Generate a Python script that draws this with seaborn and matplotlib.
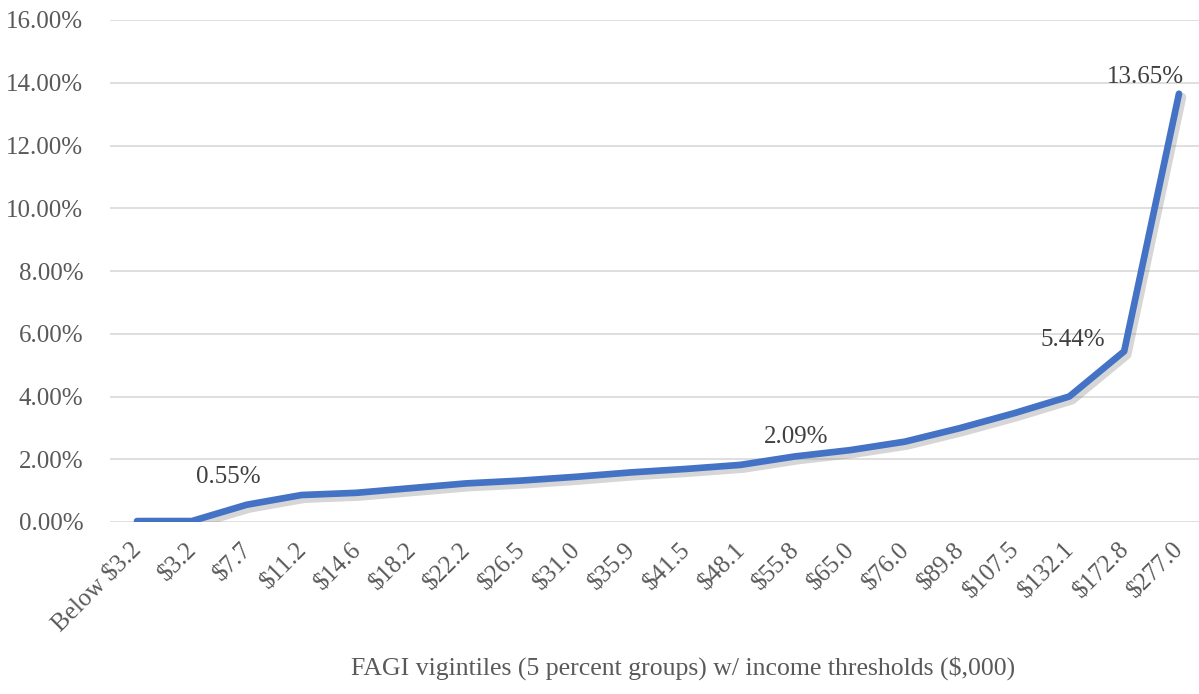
import matplotlib
matplotlib.use("Agg")
import matplotlib.pyplot as plt
import matplotlib.patheffects as pe
import matplotlib.transforms as mtrans
from matplotlib.ticker import FuncFormatter
import seaborn as sns
import pandas as pd

categories = ["Below $3.2", "$3.2", "$7.7", "$11.2", "$14.6", "$18.2", "$22.2",
              "$26.5", "$31.0", "$35.9", "$41.5", "$48.1", "$55.8", "$65.0",
              "$76.0", "$89.8", "$107.5", "$132.1", "$172.8", "$277.0"]
values = [0.03, 0.03, 0.55, 0.86, 0.93, 1.08, 1.23, 1.32, 1.44, 1.58, 1.69,
          1.82, 2.09, 2.29, 2.56, 2.99, 3.47, 4.00, 5.44, 13.65]
labelled = {2: "0.55%", 12: "2.09%", 18: "5.44%", 19: "13.65%"}
label_offsets = {2: (-13, 20), 12: (1, 14), 18: (-37, 8), 19: (-24, 12)}
y_ticks = [0, 2, 4, 6, 8, 10, 12, 14, 16]
x_title = "FAGI vigintiles (5 percent groups) w/ income thresholds ($,000)"

sns.set_theme(style="white")
plt.rcParams['font.family'] = ['Liberation Serif', 'DejaVu Serif']

df = pd.DataFrame({"cat": categories, "val": values})

fig = plt.figure(figsize=(11.99, 6.94), dpi=100)
ax = fig.add_axes([109.6 / 1199, 172 / 694, (1206.4 - 109.6) / 1199, 502 / 694])

sns.lineplot(data=df, x="cat", y="val", sort=False, ax=ax, color="#4472C4",
             linewidth=4.8, solid_capstyle="round", solid_joinstyle="round",
             path_effects=[pe.SimpleLineShadow(offset=(2.0, -2.5), shadow_color="#8a8a8a",
                                               alpha=0.35, linewidth=6.5), pe.Normal()])

ax.set_xlim(-0.5, len(categories) - 0.5)
ax.set_ylim(0, 16)
ax.set_yticks(y_ticks)
ax.yaxis.set_major_formatter(FuncFormatter(lambda v, p: f"{v:.2f}%"))
ax.grid(axis="y", color="#d9d9d9", linewidth=1.2)
ax.set_axisbelow(True)
for s in ax.spines.values():
    s.set_visible(False)

ax.tick_params(axis="y", length=0, pad=19, labelsize=18, labelcolor="#595959")
ax.tick_params(axis="x", length=0, pad=12, labelsize=18, labelcolor="#595959")
ax.set_xticks(range(len(categories)))
ax.set_xticklabels(categories, rotation=45, ha="right", va="top", rotation_mode="anchor")
shift = mtrans.ScaledTranslation(-6 / 100, 0, fig.dpi_scale_trans)
for lbl in ax.get_xticklabels():
    lbl.set_transform(lbl.get_transform() + shift)

ax.set_xlabel("")
ax.set_ylabel("")

for i, txt in labelled.items():
    dx, dy = label_offsets[i]
    ax.annotate(txt, (i, values[i]), xytext=(dx, dy), textcoords="offset points",
                ha="center", va="center", fontsize=18, color="#404040")

fig.text(683 / 1199, 1 - 668 / 694, x_title, ha="center", va="center",
         fontsize=18.5, color="#595959")

fig.savefig("out.png", dpi=100)
